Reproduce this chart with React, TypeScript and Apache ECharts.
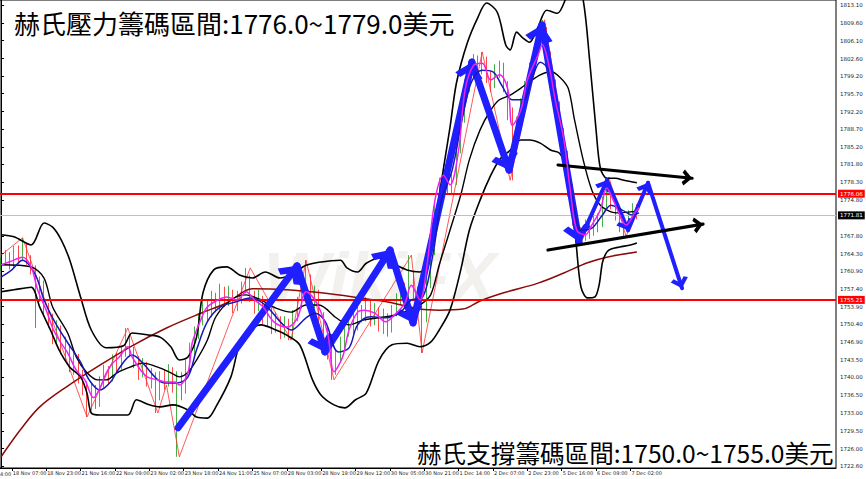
import React, { useEffect, useRef } from "react";
import * as echarts from "echarts";

type P = [number, number];

// ---- axis ticks ----
const xTickLabels = ["18 Nov 07:00", "18 Nov 23:00", "21 Nov 16:00", "22 Nov 09:00", "23 Nov 02:00", "23 Nov 18:00", "24 Nov 11:00", "25 Nov 07:00", "28 Nov 03:00", "28 Nov 19:00", "29 Nov 12:00", "30 Nov 05:00", "30 Nov 21:00", "1 Dec 14:00", "2 Dec 07:00", "2 Dec 23:00", "5 Dec 16:00", "6 Dec 09:00", "7 Dec 02:00"];
const xTickBars = [5, 21, 37, 53, 69, 85, 101, 117, 133, 149, 165, 181, 197, 213, 229, 245, 261, 277, 293];
const yTickLabels = ["1722.60", "1726.00", "1729.50", "1733.00", "1736.50", "1740.00", "1743.50", "1746.90", "1750.40", "1753.90", "1757.40", "1760.90", "1764.30", "1767.80", "1774.80", "1778.30", "1781.80", "1785.20", "1788.70", "1792.20", "1795.70", "1799.20", "1802.60", "1806.10", "1809.60", "1813.10"];

// ---- price levels ----
const resistanceLevel = 1776.06;
const supportLevel = 1755.21;
const lastPrice = 1771.81;

// ---- candles: [bar, open, close, low, high] ----
const candles: number[][] = [
  [0, 1761.8, 1762.5, 1761.0, 1763.5], [2, 1762.5, 1763.8, 1762.0, 1765.0], [4, 1763.8, 1762.0, 1761.2, 1764.6], [6, 1762.0, 1764.5, 1761.5, 1765.8],
  [8, 1764.5, 1763.2, 1762.4, 1765.9], [10, 1763.2, 1765.5, 1762.8, 1767.4], [12, 1765.5, 1763.0, 1762.1, 1766.2], [14, 1763.0, 1761.5, 1760.2, 1764.0],
  [16, 1761.5, 1756.0, 1749.7, 1762.0], [18, 1756.0, 1758.5, 1754.8, 1759.8], [20, 1758.5, 1753.0, 1752.0, 1759.0], [22, 1753.0, 1751.5, 1749.8, 1754.6],
  [24, 1751.5, 1748.0, 1746.5, 1752.5], [26, 1748.0, 1749.5, 1746.8, 1751.2], [28, 1749.5, 1746.0, 1744.5, 1750.2], [30, 1746.0, 1745.5, 1743.2, 1748.0],
  [32, 1745.5, 1742.5, 1741.0, 1746.5], [34, 1742.5, 1743.5, 1740.5, 1745.2], [36, 1743.5, 1740.0, 1738.8, 1744.6], [38, 1740.0, 1738.5, 1736.5, 1741.5],
  [40, 1738.5, 1734.5, 1732.2, 1739.2], [42, 1734.5, 1737.5, 1733.5, 1738.8], [44, 1737.5, 1735.0, 1733.8, 1738.5], [46, 1735.0, 1739.0, 1734.2, 1740.2],
  [48, 1739.0, 1741.0, 1738.0, 1742.5], [50, 1741.0, 1740.0, 1738.5, 1742.2], [52, 1740.0, 1743.5, 1739.2, 1744.5], [54, 1743.5, 1742.0, 1740.8, 1744.8],
  [56, 1742.0, 1745.0, 1741.5, 1746.2], [58, 1745.0, 1747.5, 1744.0, 1749.7], [60, 1747.5, 1745.0, 1744.0, 1748.5], [62, 1745.0, 1743.5, 1741.8, 1746.0],
  [64, 1743.5, 1741.0, 1739.5, 1744.2], [66, 1741.0, 1742.5, 1740.0, 1743.8], [68, 1742.5, 1739.5, 1738.2, 1743.0], [70, 1739.5, 1740.5, 1737.8, 1741.8],
  [72, 1740.5, 1736.5, 1733.0, 1741.0], [74, 1736.5, 1740.0, 1735.5, 1741.2], [76, 1740.0, 1739.0, 1737.5, 1741.5], [78, 1739.0, 1741.5, 1738.2, 1742.6],
  [80, 1741.5, 1738.5, 1737.0, 1742.0], [82, 1738.5, 1740.0, 1724.4, 1741.2], [84, 1740.0, 1737.5, 1735.5, 1741.0], [86, 1737.5, 1742.0, 1736.8, 1743.5],
  [88, 1742.0, 1745.5, 1741.0, 1746.8], [90, 1745.5, 1748.5, 1744.2, 1750.0], [92, 1748.5, 1751.0, 1747.5, 1752.6], [94, 1751.0, 1754.0, 1750.2, 1755.5],
  [96, 1754.0, 1752.5, 1751.0, 1755.2], [98, 1752.5, 1755.5, 1751.8, 1757.0], [100, 1755.5, 1754.0, 1752.8, 1756.6], [102, 1754.0, 1757.0, 1753.2, 1758.4],
  [104, 1757.0, 1755.0, 1753.8, 1757.8], [106, 1755.0, 1756.5, 1754.0, 1758.0], [108, 1756.5, 1754.0, 1752.6, 1757.2], [110, 1754.0, 1755.5, 1753.0, 1757.0],
  [112, 1755.5, 1757.5, 1754.5, 1758.8], [114, 1757.5, 1759.0, 1756.5, 1761.5], [116, 1759.0, 1756.0, 1754.8, 1760.0], [118, 1756.0, 1754.5, 1752.5, 1757.0],
  [120, 1754.5, 1755.5, 1753.0, 1757.2], [122, 1755.5, 1752.0, 1750.5, 1756.0], [124, 1752.0, 1753.0, 1750.0, 1754.5], [126, 1753.0, 1750.0, 1748.5, 1753.8],
  [128, 1750.0, 1751.5, 1748.8, 1752.8], [130, 1751.5, 1749.0, 1747.5, 1752.0], [132, 1749.0, 1750.5, 1747.8, 1752.0], [134, 1750.5, 1748.5, 1747.3, 1751.5],
  [136, 1748.5, 1752.0, 1747.8, 1753.2], [138, 1752.0, 1754.5, 1751.0, 1755.8], [140, 1754.5, 1757.0, 1753.5, 1758.5], [142, 1757.0, 1759.5, 1756.0, 1763.0],
  [144, 1759.5, 1755.0, 1753.8, 1760.2], [146, 1755.0, 1756.5, 1753.5, 1758.0], [148, 1756.5, 1752.0, 1750.5, 1757.2], [150, 1752.0, 1749.0, 1747.0, 1752.8],
  [152, 1749.0, 1745.5, 1743.5, 1749.8], [154, 1745.5, 1742.0, 1739.5, 1746.2], [156, 1742.0, 1744.0, 1740.5, 1745.5], [158, 1744.0, 1746.5, 1743.0, 1748.0],
  [160, 1746.5, 1749.0, 1745.5, 1750.2], [162, 1749.0, 1751.5, 1748.0, 1753.0], [164, 1751.5, 1750.0, 1748.5, 1752.6], [166, 1750.0, 1753.0, 1749.2, 1754.5],
  [168, 1753.0, 1752.0, 1750.8, 1754.2], [170, 1752.0, 1754.5, 1751.0, 1755.8], [172, 1754.5, 1751.5, 1750.0, 1755.2], [174, 1751.5, 1753.0, 1750.2, 1754.6],
  [176, 1753.0, 1750.5, 1749.0, 1753.8], [178, 1750.5, 1752.0, 1748.5, 1753.5], [180, 1752.0, 1749.5, 1748.0, 1752.6], [182, 1749.5, 1753.0, 1748.8, 1754.2],
  [184, 1753.0, 1755.0, 1752.0, 1756.5], [186, 1755.0, 1757.5, 1754.2, 1759.0], [188, 1757.5, 1756.0, 1754.5, 1758.6], [190, 1756.0, 1760.0, 1755.2, 1764.0],
  [192, 1760.0, 1757.0, 1755.5, 1761.0], [194, 1757.0, 1754.5, 1752.5, 1757.8], [196, 1754.5, 1752.0, 1744.8, 1755.5], [198, 1752.0, 1758.5, 1750.8, 1759.5],
  [200, 1758.5, 1765.0, 1757.5, 1766.2], [202, 1765.0, 1772.5, 1764.0, 1773.8], [204, 1772.5, 1778.0, 1771.0, 1779.2], [206, 1778.0, 1780.5, 1776.5, 1781.8],
  [208, 1780.5, 1777.5, 1776.0, 1781.2], [210, 1777.5, 1778.5, 1775.8, 1780.0], [212, 1778.5, 1785.0, 1777.8, 1786.5], [214, 1785.0, 1791.0, 1784.0, 1792.5],
  [216, 1791.0, 1797.0, 1790.0, 1798.5], [218, 1797.0, 1800.5, 1796.0, 1802.0], [220, 1800.5, 1802.0, 1799.0, 1803.5], [222, 1802.0, 1800.5, 1799.2, 1803.2],
  [224, 1800.5, 1802.5, 1799.5, 1803.9], [226, 1802.5, 1799.0, 1797.8, 1803.0], [228, 1799.0, 1797.5, 1796.0, 1800.2], [230, 1797.5, 1800.0, 1796.8, 1801.5],
  [232, 1800.0, 1801.0, 1798.8, 1802.2], [234, 1801.0, 1797.5, 1796.0, 1801.8], [236, 1797.5, 1792.0, 1790.5, 1798.2], [238, 1792.0, 1786.0, 1778.7, 1793.0],
  [240, 1786.0, 1790.0, 1784.5, 1791.2], [242, 1790.0, 1793.5, 1789.0, 1794.8], [244, 1793.5, 1797.0, 1792.5, 1798.2], [246, 1797.0, 1800.5, 1796.0, 1801.8],
  [248, 1800.5, 1803.5, 1799.5, 1804.8], [250, 1803.5, 1806.0, 1802.5, 1807.5], [252, 1806.0, 1808.0, 1805.0, 1810.2], [254, 1808.0, 1803.0, 1801.5, 1808.8],
  [256, 1803.0, 1797.5, 1796.0, 1804.0], [258, 1797.5, 1793.0, 1791.5, 1798.5], [260, 1793.0, 1788.0, 1786.5, 1794.2], [262, 1788.0, 1783.5, 1781.8, 1789.0],
  [264, 1783.5, 1777.0, 1775.5, 1784.5], [266, 1777.0, 1771.5, 1769.8, 1778.0], [268, 1771.5, 1768.0, 1766.8, 1772.5], [270, 1768.0, 1767.5, 1766.4, 1769.5],
  [272, 1767.5, 1769.5, 1766.8, 1771.0], [274, 1769.5, 1768.5, 1767.2, 1771.2], [276, 1768.5, 1771.0, 1767.8, 1772.5], [278, 1771.0, 1770.0, 1768.5, 1772.2],
  [280, 1770.0, 1774.0, 1769.5, 1775.5], [282, 1774.0, 1777.5, 1773.2, 1779.3], [284, 1777.5, 1774.5, 1773.0, 1778.2], [286, 1774.5, 1772.0, 1770.8, 1775.2],
  [288, 1772.0, 1770.5, 1768.5, 1773.0], [290, 1770.5, 1770.0, 1767.6, 1771.8], [292, 1770.0, 1771.5, 1769.2, 1772.8], [294, 1771.5, 1773.0, 1770.5, 1774.2],
  [296, 1773.0, 1771.8, 1771.0, 1774.0],
];

// ---- indicator lines: [bar, price] ----
const fastMA: P[] = [[0, 1762.1], [4, 1762.7], [10, 1763.6], [14, 1761.7], [17, 1757.2], [21, 1753.2], [24, 1749.7], [27, 1747.3], [31, 1744.8], [35, 1741.4], [39, 1739.5], [43, 1736.0], [46, 1737.9], [49, 1740.9], [52, 1742.8], [55, 1744.0], [59, 1746.0], [61, 1744.0], [65, 1741.4], [68, 1740.1], [73, 1739.5], [77, 1739.1], [81, 1739.1], [83, 1738.5], [87, 1740.9], [89, 1746.8], [93, 1751.3], [96, 1753.8], [101, 1755.2], [105, 1755.8], [110, 1755.2], [114, 1756.8], [118, 1755.2], [122, 1753.8], [127, 1750.9], [133, 1749.9], [138, 1751.7], [142, 1756.8], [147, 1754.6], [152, 1748.7], [155, 1741.1], [159, 1744.0], [162, 1749.3], [166, 1752.8], [169, 1753.2], [174, 1752.6], [179, 1750.9], [183, 1752.2], [188, 1754.6], [191, 1758.1], [195, 1755.2], [198, 1761.1], [202, 1774.8], [206, 1779.7], [209, 1777.8], [213, 1784.6], [216, 1796.4], [220, 1801.3], [224, 1801.7], [228, 1798.4], [232, 1799.4], [236, 1796.4], [238, 1789.5], [242, 1792.5], [245, 1798.4], [250, 1803.3], [252, 1805.3], [255, 1801.3], [258, 1794.5], [262, 1786.6], [265, 1776.8], [268, 1768.9], [272, 1768.0], [275, 1769.9], [279, 1772.9], [282, 1777.2], [285, 1774.8], [288, 1771.9], [291, 1769.9], [295, 1772.3], [297, 1773.3]];
const slowMA: P[] = [[0, 1759.7], [5, 1761.1], [10, 1763.0], [16, 1760.1], [20, 1755.2], [25, 1750.9], [31, 1746.8], [37, 1743.0], [41, 1739.5], [46, 1737.5], [51, 1739.1], [55, 1741.8], [61, 1744.4], [66, 1742.8], [72, 1739.9], [76, 1738.9], [82, 1738.9], [87, 1740.1], [91, 1745.4], [96, 1750.9], [102, 1753.8], [109, 1754.8], [116, 1755.6], [123, 1754.2], [130, 1750.9], [135, 1749.3], [142, 1751.7], [146, 1752.6], [151, 1750.9], [157, 1745.0], [162, 1745.8], [166, 1750.3], [172, 1751.9], [179, 1751.7], [186, 1752.8], [191, 1755.2], [196, 1755.6], [201, 1764.0], [205, 1774.8], [210, 1780.7], [215, 1791.5], [219, 1798.0], [224, 1800.3], [229, 1800.0], [233, 1797.4], [238, 1794.5], [243, 1794.5], [247, 1798.4], [251, 1801.9], [255, 1800.3], [259, 1792.5], [263, 1783.7], [267, 1772.9], [270, 1768.9], [275, 1769.3], [280, 1771.9], [284, 1773.8], [289, 1772.9], [294, 1771.9], [297, 1772.3]];
const longMA: P[] = [[0, 1724.4], [9, 1729.7], [18, 1734.2], [31, 1738.3], [46, 1742.4], [61, 1746.2], [77, 1749.7], [93, 1752.6], [105, 1754.6], [117, 1757.4], [133, 1757.2], [149, 1756.6], [164, 1755.8], [180, 1754.8], [195, 1753.4], [204, 1753.2], [215, 1753.4], [223, 1755.0], [234, 1756.6], [250, 1758.5], [262, 1760.5], [273, 1762.5], [282, 1763.6], [296, 1764.6]];
const zigzag: P[] = [[0, 1764.0], [10, 1767.4], [40, 1732.2], [59, 1749.7], [73, 1733.0], [77, 1738.5], [83, 1724.4], [116, 1761.5], [135, 1747.3], [142, 1763.0], [155, 1739.5], [191, 1764.0], [196, 1744.8], [224, 1803.9], [237, 1778.7], [253, 1810.2], [270, 1766.4], [283, 1779.3], [291, 1767.6], [296, 1773.8]];
const bandUpper: P[] = [[0, 1768.0], [6, 1767.6], [14, 1766.0], [20, 1770.3], [24, 1769.5], [28, 1767.0], [32, 1763.0], [37, 1755.8], [42, 1749.3], [49, 1745.8], [57, 1746.2], [61, 1748.7], [69, 1748.3], [74, 1747.9], [79, 1746.0], [83, 1743.4], [87, 1744.0], [91, 1747.9], [94, 1756.6], [99, 1761.1], [105, 1761.7], [111, 1760.1], [117, 1759.5], [123, 1760.7], [130, 1759.5], [136, 1760.5], [142, 1762.0], [148, 1762.6], [158, 1763.0], [161, 1761.5], [166, 1760.7], [170, 1762.4], [176, 1763.4], [182, 1762.4], [189, 1761.1], [195, 1760.7], [200, 1764.0], [204, 1775.8], [209, 1789.1], [212, 1797.8], [217, 1805.6], [222, 1810.7], [226, 1813.5], [231, 1811.7], [235, 1805.2], [237, 1804.3], [240, 1807.8], [243, 1806.6], [246, 1805.8], [250, 1808.8], [254, 1812.1], [259, 1811.5], [263, 1814.5], [267, 1819.0], [271, 1814.1], [274, 1802.3], [277, 1788.6], [279, 1781.1], [282, 1779.1], [286, 1779.1], [290, 1778.7], [296, 1778.2]];
const bandMiddle: P[] = [[0, 1762.1], [14, 1761.7], [20, 1759.5], [24, 1753.8], [31, 1748.7], [35, 1744.0], [40, 1740.9], [45, 1739.5], [49, 1739.5], [54, 1740.9], [60, 1742.0], [66, 1742.8], [73, 1742.0], [79, 1740.9], [83, 1740.1], [87, 1741.0], [91, 1743.4], [96, 1747.3], [100, 1751.9], [107, 1755.2], [114, 1756.2], [121, 1755.2], [128, 1753.6], [135, 1752.8], [142, 1754.2], [148, 1754.2], [156, 1751.7], [162, 1750.3], [169, 1751.3], [176, 1751.7], [183, 1752.2], [190, 1753.2], [195, 1754.2], [200, 1756.2], [204, 1762.1], [209, 1768.9], [214, 1775.8], [218, 1782.7], [223, 1788.6], [228, 1792.5], [232, 1794.5], [237, 1795.4], [242, 1796.8], [246, 1798.0], [251, 1799.4], [256, 1800.0], [260, 1799.0], [264, 1796.8], [267, 1790.5], [271, 1782.7], [275, 1776.8], [279, 1773.8], [284, 1772.5], [288, 1772.3], [293, 1772.5], [296, 1772.7]];
const bandLower: P[] = [[0, 1756.8], [6, 1757.2], [14, 1757.7], [18, 1753.8], [23, 1749.3], [27, 1745.4], [32, 1742.0], [37, 1740.1], [40, 1736.9], [42, 1733.0], [46, 1732.6], [59, 1732.6], [63, 1735.6], [69, 1734.6], [74, 1734.2], [80, 1734.6], [87, 1733.6], [91, 1732.2], [96, 1732.0], [100, 1734.2], [107, 1740.1], [111, 1746.4], [116, 1749.3], [121, 1750.3], [128, 1749.3], [133, 1748.3], [139, 1746.4], [145, 1739.5], [149, 1736.5], [155, 1734.6], [160, 1734.0], [165, 1735.6], [170, 1736.9], [176, 1743.4], [182, 1746.4], [189, 1746.7], [195, 1746.0], [200, 1746.9], [204, 1749.3], [209, 1753.2], [214, 1761.1], [218, 1768.9], [223, 1774.8], [228, 1779.7], [232, 1782.7], [237, 1784.6], [242, 1786.6], [246, 1786.6], [251, 1786.0], [256, 1784.6], [260, 1784.0], [263, 1781.3], [266, 1774.8], [268, 1765.0], [270, 1757.7], [273, 1755.6], [276.5, 1755.8], [278.4, 1758.1], [280, 1762.6], [282, 1764.6], [284, 1765.2], [288, 1765.6], [293, 1766.0], [296, 1766.4]];

// ---- hand-drawn arrows: [from, to] in [bar, price] ----
const blueArrowsThick: [P, P][] = [
  [[82.4, 1730.1], [137.8, 1761.9]], [[137.8, 1761.9], [150.8, 1745.0]], [[150.8, 1745.0], [181.1, 1765.0]], [[181.1, 1765.0], [191.8, 1750.7]],
  [[191.8, 1750.7], [219.2, 1801.9]], [[219.2, 1801.9], [236.5, 1780.7]], [[236.5, 1780.7], [251.8, 1809.2]], [[251.8, 1809.2], [269.1, 1766.6]],
];
const blueArrowsThin: [P, P][] = [
  [[269.1, 1766.6], [282.1, 1778.7]], [[282.1, 1778.7], [291.9, 1768.9]], [[291.9, 1768.9], [301.2, 1778.2]], [[301.2, 1778.2], [317.0, 1757.5]],
];
const blackArrows: [P, P][] = [
  [[259.3, 1781.7], [321.7, 1779.1]], [[254.6, 1765.0], [326.8, 1770.1]],
];

const TITLE_TOP = "赫氏壓力籌碼區間:1776.0~1779.0美元";
const TITLE_BOTTOM = "赫氏支撐籌碼區間:1750.0~1755.0美元";

const CHEVRON = "path://M0,12 L12,0 L24,12 L19,15 L12,8 L5,15 Z";

function arrowData(list: [P, P][], width: number, size: number[], color: string) {
  return list.map(([a, b]) => [
    { coord: a, symbol: "none", lineStyle: { width, color, type: "solid", cap: "round" } },
    { coord: b, symbol: CHEVRON, symbolSize: size, symbolOffset: [0, "50%"] },
  ]);
}

export default function App() {
  const ref = useRef<HTMLDivElement>(null);
  useEffect(() => {
    if (!ref.current) return;
    const chart = echarts.init(ref.current, null, { renderer: "svg" });
    const lineBase = (name: string, data: P[], color: string, width: number, z: number, smooth: number | boolean = 0.35) => ({
      name, type: "line", data, smooth, symbol: "none", z, silent: true,
      lineStyle: { color, width }, clip: true,
    });
    const markLabel = (bg: string) => ({
      show: true, position: "end", distance: 2, color: "#fff", backgroundColor: bg,
      fontSize: 5.5, fontFamily: "DejaVu Sans", padding: [1, 2, 1, 2],
      formatter: (p: any) => Number(p.value).toFixed(2),
    });
    const option: any = {
      animation: false,
      backgroundColor: "#ffffff",
      grid: { left: 0, right: 30, top: 0, bottom: 11, show: true, borderColor: "#000", borderWidth: 1 },
      xAxis: {
        type: "value", min: -0.5, max: 388.7,
        axisLine: { show: true, lineStyle: { color: "#000", width: 1 } },
        axisTick: { show: true, customValues: xTickBars, length: 3, lineStyle: { color: "#000" } },
        axisLabel: {
          show: true, customValues: xTickBars, align: "left", margin: 2, fontSize: 5, color: "#222",
          fontFamily: "DejaVu Sans", padding: [0, 0, 0, 1],
          formatter: (v: number) => xTickLabels[xTickBars.indexOf(v)] ?? "",
        },
        splitLine: { show: false },
      },
      yAxis: {
        type: "value", position: "right", min: 1722.2, max: 1814.1, scale: true,
        axisLine: { show: true, lineStyle: { color: "#000", width: 1 } },
        axisTick: { show: true, customValues: yTickLabels.map(Number), length: 3, lineStyle: { color: "#000" } },
        axisLabel: {
          show: true, customValues: yTickLabels.map(Number), margin: 4, fontSize: 5.5, color: "#222",
          fontFamily: "DejaVu Sans", formatter: (v: number) => v.toFixed(2),
        },
        splitLine: { show: false },
      },
      series: [
        {
          name: "candles", type: "candlestick", data: candles, encode: { x: 0, y: [1, 2, 3, 4] },
          barWidth: 1.3, z: 2, silent: true, clip: true,
          itemStyle: { color: "#1a9a1a", color0: "#ff1a1a", borderColor: "#1a9a1a", borderColor0: "#ff1a1a", borderWidth: 0.8 },
        },
        lineBase("zigzag", zigzag, "#ff3030", 0.8, 3, false),
        lineBase("longMA", longMA, "#8b0a0a", 1.5, 4),
        lineBase("bandUpper", bandUpper, "#000", 1.6, 4, 0.3),
        lineBase("bandMiddle", bandMiddle, "#000", 1.4, 4, 0.3),
        lineBase("bandLower", bandLower, "#000", 1.6, 4, 0.3),
        lineBase("slowMA", slowMA, "#1818b8", 1.5, 5),
        lineBase("fastMA", fastMA, "#ee22ee", 1.5, 6),
        {
          name: "levels", type: "line", data: [[0, lastPrice]], symbol: "none", lineStyle: { opacity: 0 }, z: 7, silent: true,
          markLine: {
            silent: true, symbol: ["none", "none"], animation: false,
            data: [
              { yAxis: lastPrice, lineStyle: { color: "#c0c0c0", width: 1, type: "solid" }, label: markLabel("#000") },
              { yAxis: resistanceLevel, lineStyle: { color: "#ff0000", width: 2.2, type: "solid" }, label: markLabel("#ff0000") },
              { yAxis: supportLevel, lineStyle: { color: "#ff0000", width: 2.2, type: "solid" }, label: markLabel("#ff0000") },
            ],
          },
        },
        {
          name: "arrows", type: "line", data: [[0, lastPrice]], symbol: "none", lineStyle: { opacity: 0 }, z: 8, silent: true,
          markLine: {
            silent: true, animation: false, label: { show: false }, emphasis: { disabled: true },
            data: [
              ...arrowData(blueArrowsThick, 7, [28, 17], "#1f1fff"),
              ...arrowData(blueArrowsThin, 4, [18, 11], "#1f1fff"),
              ...arrowData(blackArrows, 3.2, [16, 10], "#000"),
            ],
          },
        },
      ],
      graphic: [
        { type: "text", x: 380, y: 278, z: 0, silent: true, style: { text: "WikiFX", fill: "rgba(180,165,140,0.16)", font: "italic bold 70px 'Liberation Sans'", textAlign: "center", textVerticalAlign: "middle" } },
        { type: "text", x: 14, y: 22, z: 100, silent: true, style: { text: TITLE_TOP, fill: "#000", font: "26px 'Noto Sans CJK TC'", textVerticalAlign: "middle" } },
        { type: "rect", z: 99, silent: true, shape: { x: 413, y: 436, width: 422, height: 31 }, style: { fill: "#fff" } },
        { type: "text", x: 417, y: 452, z: 100, silent: true, style: { text: TITLE_BOTTOM, fill: "#000", font: "24.6px 'Noto Sans CJK TC'", textVerticalAlign: "middle" } },
        { type: "text", x: 0, y: 474, z: 100, silent: true, style: { text: "4:00", fill: "#222", font: "5px 'DejaVu Sans'", textVerticalAlign: "middle" } },
      ],
    };
    chart.setOption(option);
    return () => chart.dispose();
  }, []);
  return <div ref={ref} style={{ position: "fixed", left: 0, top: 0, width: 866, height: 479, background: "#fff" }} />;
}
